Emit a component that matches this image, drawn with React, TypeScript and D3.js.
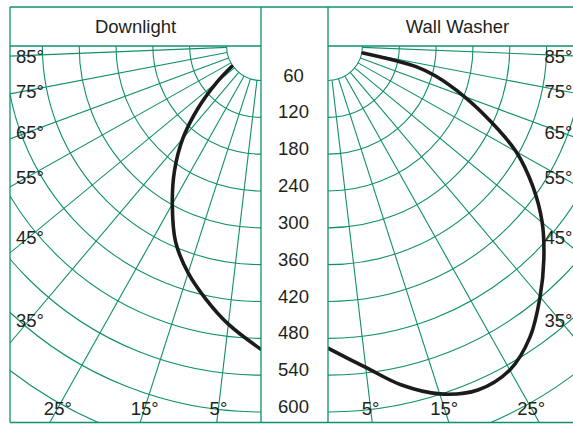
import React from 'react';
import * as d3 from 'd3';

// ---------- data ----------
const panelTitles = ['Downlight', 'Wall Washer'];
const candelaTicks = [60, 120, 180, 240, 300, 360, 420, 480, 540, 600];
const outerRingValue = 672; // unlabeled ring outside 600
const angleTicks = [5, 15, 25, 35, 45, 55, 65, 75, 85];
const sideLabelAngles = [85, 75, 65, 55, 45, 35];
const bottomLabelAngles = [25, 15, 5];

const downlightAngles = [0, 5, 10, 15, 20, 25, 30, 35, 40, 45, 49.5];
const downlightCandela = [498, 460, 426, 392, 352, 299, 251, 201, 148, 98, 62];

const wallWasherAngles = [0, 5, 10, 15, 20, 25, 30, 35, 40, 45, 50, 55, 60, 65, 70, 72.5, 74.5];
const wallWasherCandela = [496, 531, 569, 599, 615, 609, 581, 539, 498, 456, 408, 355, 295, 240, 185, 151, 62];

// ---------- layout ----------
const W = 573;
const H = 424;
const TOP = 7;
const HEADER = 46;
const BOTTOM = 422.5;
const LEFT_X0 = 10;
const LEFT_X1 = 261;
const RIGHT_X0 = 328;
const RIGHT_X1 = 579;
const CY = HEADER;

const GREEN = '#10906c';
const TEXT = '#231f20';
const FONT = '"Liberation Sans", Arial, Helvetica, sans-serif';

const rScale = d3.scaleLinear().domain([60, 600]).range([34.5, 366]);
// angle grid as drawn in the reference (nominal degrees -> drawn degrees)
const angleScale = d3
  .scaleLinear()
  .domain([0, 5, 15, 25, 35, 45, 55, 65, 75, 85, 90])
  .range([0, 6.7, 17.8, 29.3, 40.2, 50.5, 60.7, 69.7, 79.2, 87.7, 90]);

const rad = (d: number) => (d * Math.PI) / 180;

function pt(side: number, deg: number, r: number): [number, number] {
  const cx = side < 0 ? LEFT_X1 : RIGHT_X0;
  const phi = rad(angleScale(deg));
  return [cx + side * r * Math.sin(phi), CY + r * Math.cos(phi)];
}

function ringPath(side: number, r: number) {
  const cx = side < 0 ? LEFT_X1 : RIGHT_X0;
  const p = d3.path();
  if (side < 0) {
    p.moveTo(cx, CY + r);
    p.arc(cx, CY, r, Math.PI / 2, Math.PI);
  } else {
    p.moveTo(cx + r, CY);
    p.arc(cx, CY, r, 0, Math.PI / 2);
  }
  return p.toString();
}

const curve = d3
  .line<[number, number]>()
  .x((d) => d[0])
  .y((d) => d[1])
  .curve(d3.curveCatmullRom.alpha(0.5));

function Panel({ side }: { side: number }) {
  const x0 = side < 0 ? LEFT_X0 : RIGHT_X0;
  const x1 = side < 0 ? LEFT_X1 : RIGHT_X1;
  const cx = side < 0 ? LEFT_X1 : RIGHT_X0;
  const clipId = side < 0 ? 'clipL' : 'clipR';
  const rings = [...candelaTicks, outerRingValue];
  const r0 = rScale(candelaTicks[0]);
  const angles = side < 0 ? downlightAngles : wallWasherAngles;
  const values = side < 0 ? downlightCandela : wallWasherCandela;
  const pts = angles.map((a, i) => pt(side, a, rScale(values[i])));

  return (
    <g>
      <defs>
        <clipPath id={clipId}>
          <rect x={x0} y={HEADER} width={x1 - x0} height={BOTTOM - HEADER} />
        </clipPath>
      </defs>
      <g clipPath={`url(#${clipId})`} fill="none" stroke={GREEN} strokeWidth={1.1}>
        {rings.map((v) => (
          <path key={v} d={ringPath(side, rScale(v))} />
        ))}
        {angleTicks.map((a) => {
          const [xa, ya] = pt(side, a, r0);
          const [xb, yb] = pt(side, a, 800);
          return <line key={a} x1={xa} y1={ya} x2={xb} y2={yb} />;
        })}
      </g>
      <g fontFamily={FONT} fontSize={18.5} fill={TEXT}>
        {sideLabelAngles.map((a) => {
          const phi = rad(angleScale(a));
          const y = CY + 231 / Math.tan(phi) + 1.5 + 6.5;
          const x = side < 0 ? 16 : 544.5;
          return (
            <text key={a} x={x} y={y} textAnchor="start">
              {a}°
            </text>
          );
        })}
        {bottomLabelAngles.map((a) => {
          const phi = rad(angleScale(a));
          const x = cx + side * (408 - CY) * Math.tan(phi);
          return (
            <text key={a} x={x} y={415} textAnchor="middle">
              {a}°
            </text>
          );
        })}
      </g>
      <path
        d={curve(pts) || ''}
        fill="none"
        stroke="#1b1b1b"
        strokeWidth={3.6}
        strokeLinecap="round"
        clipPath={`url(#${clipId})`}
      />
    </g>
  );
}

export default function App() {
  return (
    <svg
      width={W}
      height={H}
      style={{ position: 'absolute', left: 0, top: 0, background: '#fff' }}
    >
      <rect x={0} y={0} width={W} height={H} fill="#fff" />
      <Panel side={-1} />
      <Panel side={1} />
      {/* frame */}
      <g stroke={GREEN} strokeWidth={1.3} fill="none">
        <line x1={LEFT_X0} y1={TOP} x2={W} y2={TOP} />
        <line x1={LEFT_X0} y1={BOTTOM} x2={W} y2={BOTTOM} />
        <line x1={LEFT_X0} y1={TOP} x2={LEFT_X0} y2={BOTTOM} />
        <line x1={LEFT_X1} y1={TOP} x2={LEFT_X1} y2={BOTTOM} />
        <line x1={RIGHT_X0} y1={TOP} x2={RIGHT_X0} y2={BOTTOM} />
        <line x1={RIGHT_X1} y1={TOP} x2={RIGHT_X1} y2={BOTTOM} />
        <line x1={LEFT_X0} y1={HEADER} x2={LEFT_X1} y2={HEADER} />
        <line x1={RIGHT_X0} y1={HEADER} x2={RIGHT_X1} y2={HEADER} />
      </g>
      <g fontFamily={FONT} fontSize={18.5} fill={TEXT} textAnchor="middle">
        <text x={(LEFT_X0 + LEFT_X1) / 2} y={33}>
          {panelTitles[0]}
        </text>
        <text x={457.5} y={33}>
          {panelTitles[1]}
        </text>
        {candelaTicks.map((v) => (
          <text key={v} x={293.5} y={CY + rScale(v) + 1}>
            {v}
          </text>
        ))}
      </g>
    </svg>
  );
}
